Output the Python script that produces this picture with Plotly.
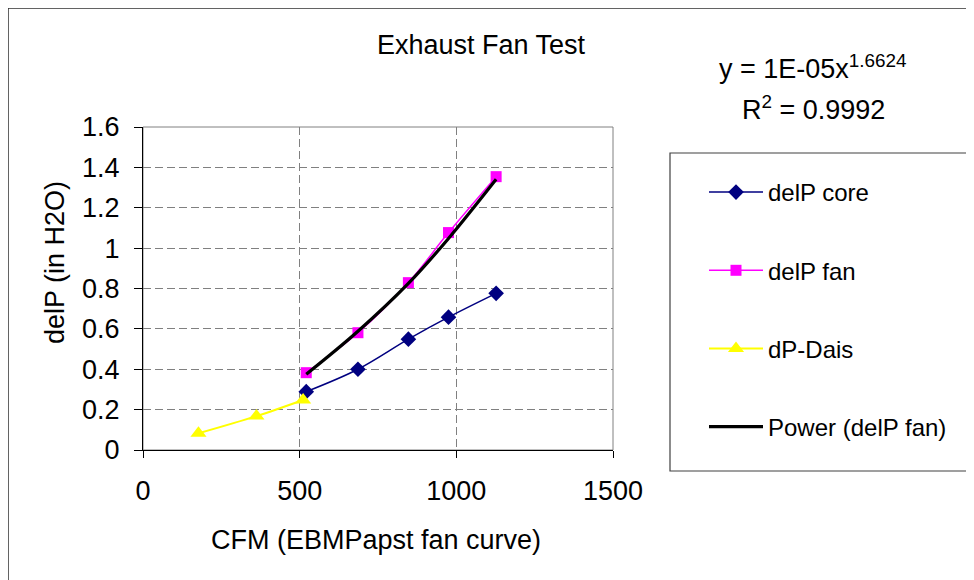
import plotly.graph_objects as go

# ---- data ----
cfm_fan = [521, 686, 847, 975, 1127]
delp_core = [0.289, 0.400, 0.549, 0.658, 0.776]
delp_fan = [0.383, 0.581, 0.829, 1.077, 1.354]
cfm_dais = [177, 362, 511]
dp_dais = [0.083, 0.168, 0.248]
power_fit = [0.375, 0.588, 0.825, 1.048, 1.341]

x_ticks = [0, 500, 1000, 1500]
y_ticks = [0, 0.2, 0.4, 0.6, 0.8, 1.0, 1.2, 1.4, 1.6]
y_tick_text = ["0", "0.2", "0.4", "0.6", "0.8", "1", "1.2", "1.4", "1.6"]

FONT = "Liberation Sans, Arial, sans-serif"

# page offset (body margin) and plot-area geometry in page pixels
O = 8
W, H = 974, 580
L, R, T, B = 143, 613, 127, 450


def px(x):
    return (x - L) / (R - L)


def py(y):
    return (B - y) / (B - T)


fig = go.Figure()

fig.add_trace(go.Scatter(
    x=cfm_fan, y=delp_core, name="delP core", mode="lines+markers",
    line=dict(color="#000080", width=1.5, shape="spline"),
    marker=dict(symbol="diamond", size=12, color="#000080"),
    legendgroup="a"))
fig.add_trace(go.Scatter(
    x=cfm_fan, y=delp_fan, name="delP fan", mode="lines+markers",
    line=dict(color="#FF00FF", width=1.5, shape="spline"),
    marker=dict(symbol="square", size=11, color="#FF00FF"),
    legendgroup="b"))
fig.add_trace(go.Scatter(
    x=cfm_dais, y=dp_dais, name="dP-Dais", mode="lines+markers",
    line=dict(color="#FFFF00", width=2, shape="spline"),
    marker=dict(symbol="triangle-up", size=14, color="#FFFF00"),
    legendgroup="c"))
fig.add_trace(go.Scatter(
    x=cfm_fan, y=power_fit, name="Power (delP fan)", mode="lines",
    line=dict(color="#000000", width=3.2, shape="spline"),
    legendgroup="d"))

grid = dict(showgrid=True, gridcolor="#808080", gridwidth=1, griddash="8px,4px")

fig.update_xaxes(
    range=[0, 1500], tickvals=x_ticks, ticks="outside", ticklen=7, tickcolor="#000",
    showline=True, linecolor="#000", linewidth=1, zeroline=False,
    tickfont=dict(family=FONT, size=27, color="#000"), ticklabelstandoff=10,
    **grid)
fig.update_yaxes(
    range=[0, 1.6], tickvals=y_ticks, ticktext=y_tick_text, ticks="outside", ticklen=8,
    tickcolor="#000", showline=True, linecolor="#000", linewidth=1, zeroline=False,
    tickfont=dict(family=FONT, size=27, color="#000"), ticklabelstandoff=9,
    **grid)

shapes = [
    # plot area border (grey)
    dict(type="rect", xref="paper", yref="paper", x0=0, x1=1, y0=0, y1=1,
         line=dict(color="#808080", width=1), layer="below"),
    # outer chart border
    dict(type="rect", xref="paper", yref="paper", x0=px(8), x1=px(1000),
         y0=py(600), y1=py(8), line=dict(color="#303030", width=1.5), layer="below"),
    # legend box
    dict(type="rect", xref="paper", yref="paper", x0=px(670), x1=px(1000),
         y0=py(471), y1=py(153), line=dict(color="#404040", width=1.2), layer="below"),
]

annotations = [
    dict(text="Exhaust Fan Test", x=px(481), y=py(45), xref="paper", yref="paper",
         showarrow=False, xanchor="center", yanchor="middle",
         font=dict(family=FONT, size=27, color="#000")),
    dict(text="y = 1E-05x<sup>1.6624</sup>", x=px(813), y=py(67), xref="paper", yref="paper",
         showarrow=False, xanchor="center", yanchor="middle",
         font=dict(family=FONT, size=27, color="#000")),
    dict(text="R<sup>2</sup> = 0.9992", x=px(813), y=py(108), xref="paper", yref="paper",
         showarrow=False, xanchor="center", yanchor="middle",
         font=dict(family=FONT, size=27, color="#000")),
    dict(text="delP (in H2O)", x=px(55), y=py(263), xref="paper", yref="paper",
         showarrow=False, xanchor="center", yanchor="middle", textangle=-90,
         font=dict(family=FONT, size=27, color="#000")),
    dict(text="CFM (EBMPapst fan curve)", x=px(376), y=py(540), xref="paper", yref="paper",
         showarrow=False, xanchor="center", yanchor="middle",
         font=dict(family=FONT, size=27, color="#000")),
]

fig.update_layout(
    width=W, height=H,
    margin=dict(l=L - O, r=W - (R - O), t=T - O, b=H - (B - O), pad=0),
    paper_bgcolor="#FFFFFF", plot_bgcolor="#FFFFFF",
    showlegend=True,
    legend=dict(x=px(704), y=py(170), xanchor="left", yanchor="top",
                font=dict(family=FONT, size=24, color="#000"),
                tracegroupgap=44, itemwidth=54, bgcolor="rgba(0,0,0,0)",
                borderwidth=0, traceorder="grouped"),
    shapes=shapes, annotations=annotations,
)

fig.write_html("out.html")
